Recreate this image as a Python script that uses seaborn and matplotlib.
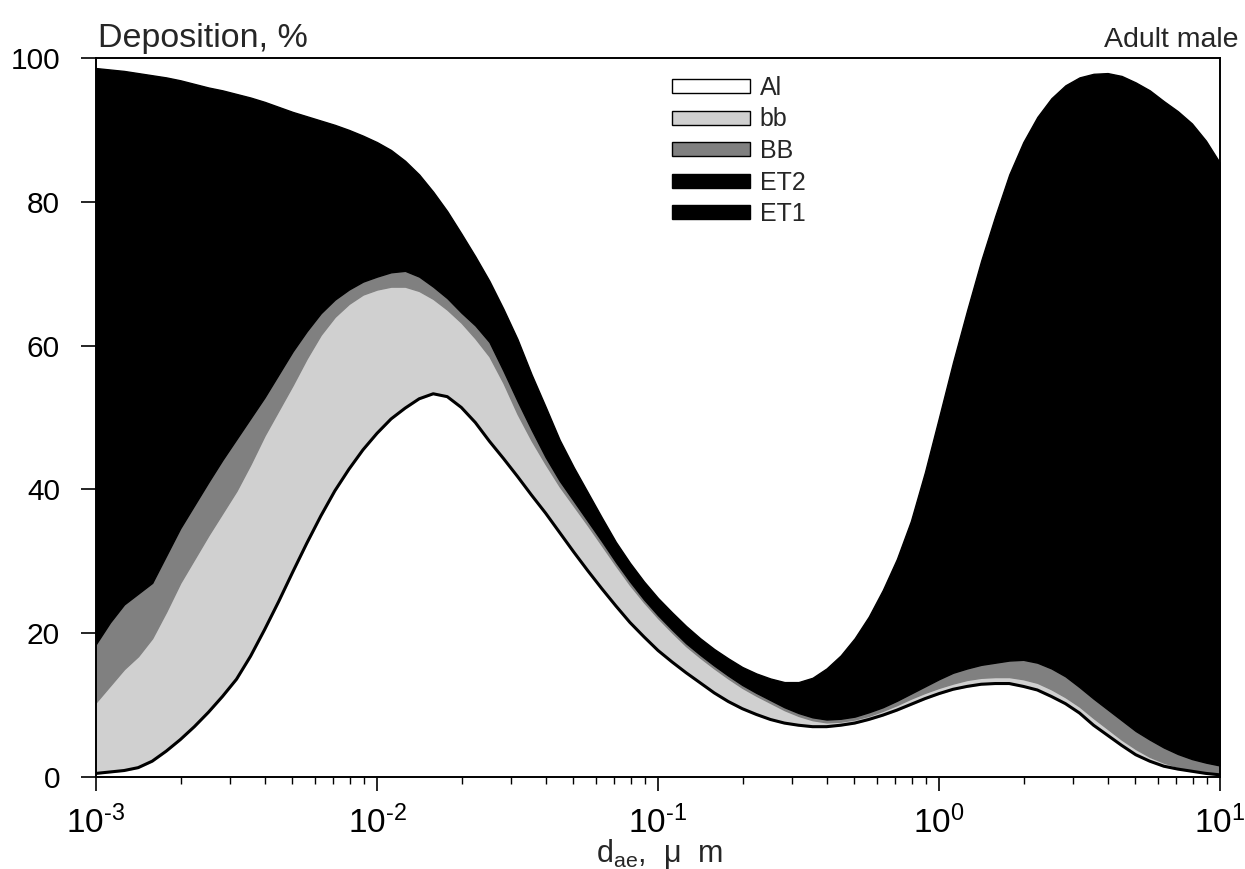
import numpy as np
import pandas as pd
import matplotlib
matplotlib.use("Agg")
import matplotlib.pyplot as plt
from matplotlib.patches import Patch
from matplotlib.ticker import FixedLocator, FixedFormatter
import seaborn as sns

# particle aerodynamic diameter, exponent of 10 (um)
log_d = [-3.00, -2.95, -2.90, -2.85, -2.80, -2.75, -2.70, -2.65, -2.60, -2.55,
         -2.50, -2.45, -2.40, -2.35, -2.30, -2.25, -2.20, -2.15, -2.10, -2.05,
         -2.00, -1.95, -1.90, -1.85, -1.80, -1.75, -1.70, -1.65, -1.60, -1.55,
         -1.50, -1.45, -1.40, -1.35, -1.30, -1.25, -1.20, -1.15, -1.10, -1.05,
         -1.00, -0.95, -0.90, -0.85, -0.80, -0.75, -0.70, -0.65, -0.60, -0.55,
         -0.50, -0.45, -0.40, -0.35, -0.30, -0.25, -0.20, -0.15, -0.10, -0.05,
         0.00, 0.05, 0.10, 0.15, 0.20, 0.25, 0.30, 0.35, 0.40, 0.45,
         0.50, 0.55, 0.60, 0.65, 0.70, 0.75, 0.80, 0.85, 0.90, 0.95, 1.00]

# cumulative deposition (%) - upper boundary of each region
al_top = [0.5, 0.7, 0.9, 1.3, 2.2, 3.6, 5.2, 7.0, 9.0, 11.2,
          13.6, 16.8, 20.5, 24.4, 28.5, 32.5, 36.3, 39.8, 42.8, 45.5,
          47.8, 49.8, 51.3, 52.6, 53.3, 52.9, 51.4, 49.3, 46.7, 44.3,
          41.8, 39.2, 36.7, 34.0, 31.3, 28.7, 26.2, 23.8, 21.5, 19.5,
          17.6, 16.0, 14.5, 13.1, 11.7, 10.5, 9.5, 8.7, 8.0, 7.5,
          7.2, 7.0, 7.0, 7.2, 7.5, 8.0, 8.6, 9.3, 10.1, 10.9,
          11.6, 12.2, 12.6, 12.9, 13.0, 13.0, 12.6, 12.1, 11.2, 10.2,
          8.9, 7.2, 5.8, 4.4, 3.1, 2.2, 1.5, 1.1, 0.8, 0.5, 0.3]
bb_top = [10.4, 12.7, 15.0, 16.8, 19.3, 23.0, 27.0, 30.3, 33.6, 36.7,
          39.8, 43.5, 47.5, 51.0, 54.5, 58.2, 61.5, 64.0, 65.8, 67.1,
          67.8, 68.2, 68.2, 67.6, 66.5, 65.0, 63.2, 61.0, 58.5, 54.8,
          50.5, 46.8, 43.5, 40.4, 37.7, 35.0, 32.2, 29.4, 26.7, 24.3,
          22.1, 20.1, 18.2, 16.6, 15.1, 13.7, 12.4, 11.3, 10.3, 9.3,
          8.5, 7.9, 7.6, 7.7, 8.0, 8.5, 9.2, 10.0, 10.9, 11.7,
          12.4, 13.0, 13.5, 13.8, 13.9, 13.9, 13.6, 13.1, 12.2, 11.1,
          9.8, 8.2, 6.7, 5.2, 3.9, 2.8, 2.0, 1.4, 1.0, 0.7, 0.4]
BB_top = [18.5, 21.5, 24.0, 25.5, 27.0, 30.8, 34.6, 37.8, 41.0, 44.1,
          47.0, 49.9, 52.8, 56.0, 59.2, 62.0, 64.5, 66.4, 67.8, 68.9,
          69.6, 70.2, 70.4, 69.6, 68.2, 66.6, 64.6, 62.8, 60.5, 56.5,
          52.3, 48.3, 44.5, 41.2, 38.4, 35.6, 32.8, 29.9, 27.2, 24.7,
          22.5, 20.5, 18.6, 17.0, 15.5, 14.1, 12.8, 11.7, 10.7, 9.7,
          8.9, 8.3, 8.0, 8.1, 8.4, 9.0, 9.7, 10.6, 11.6, 12.6,
          13.6, 14.5, 15.1, 15.6, 15.9, 16.2, 16.3, 15.9, 15.1, 14.0,
          12.5, 10.9, 9.4, 7.9, 6.4, 5.2, 4.1, 3.2, 2.5, 2.0, 1.6]
et2_top = [58.0, 60.0, 62.0, 63.0, 64.0, 65.5, 67.0, 68.5, 70.0, 71.0,
           72.0, 73.0, 74.0, 75.0, 76.0, 76.8, 77.5, 78.2, 78.8, 79.1,
           79.3, 79.0, 78.5, 77.2, 75.5, 73.2, 70.5, 68.0, 65.5, 61.6,
           57.5, 53.2, 49.0, 45.0, 41.5, 38.2, 35.0, 31.8, 28.8, 26.2,
           23.9, 21.9, 20.0, 18.3, 16.8, 15.5, 14.3, 13.4, 12.6, 12.1,
           11.8, 11.9, 12.5, 13.5, 15.0, 16.8, 19.0, 21.8, 25.0, 29.0,
           33.0, 37.0, 41.0, 45.0, 49.0, 52.2, 55.0, 56.8, 58.0, 58.4,
           58.5, 58.0, 57.0, 55.6, 54.0, 52.3, 50.5, 48.8, 47.0, 45.0, 43.0]
et1_top = [98.6, 98.4, 98.2, 97.9, 97.6, 97.3, 96.9, 96.4, 95.9, 95.5,
           95.0, 94.5, 93.9, 93.2, 92.5, 91.9, 91.3, 90.7, 90.0, 89.2,
           88.3, 87.2, 85.7, 83.8, 81.4, 78.7, 75.6, 72.4, 69.0, 65.1,
           60.9, 56.0, 51.5, 46.9, 43.1, 39.6, 36.1, 32.7, 29.8, 27.2,
           24.9, 22.9, 21.0, 19.3, 17.8, 16.5, 15.3, 14.4, 13.7, 13.2,
           13.2, 13.8, 15.1, 16.9, 19.3, 22.3, 26.0, 30.3, 35.6, 42.4,
           50.0, 57.7, 64.9, 71.8, 78.0, 83.8, 88.3, 91.8, 94.4, 96.2,
           97.3, 97.8, 97.9, 97.5, 96.6, 95.5, 94.0, 92.6, 90.9, 88.5, 85.4]

labels = ["Al", "bb", "BB", "ET2", "ET1"]
colors = ["white", "#d0d0d0", "#808080", "black", "black"]
xtick_vals = [1e-3, 1e-2, 1e-1, 1e0, 1e1]
xtick_labels = [r"$10^{\text{-}3}$", r"$10^{\text{-}2}$", r"$10^{\text{-}1}$",
                r"$10^{0}$", r"$10^{1}$"]
ytick_vals = [0, 20, 40, 60, 80, 100]

sns.set_theme(style="ticks")
plt.rcParams["font.family"] = ["Liberation Sans", "DejaVu Sans"]
plt.rcParams["mathtext.fontset"] = "custom"
plt.rcParams["mathtext.rm"] = "Liberation Sans"
plt.rcParams["mathtext.it"] = "Liberation Sans"
plt.rcParams["mathtext.default"] = "regular"

df = pd.DataFrame({"d": np.power(10.0, log_d), "Al": al_top, "bb": bb_top,
                   "BB": BB_top, "ET2": et2_top, "ET1": et1_top})

fig = plt.figure(figsize=(12.45, 8.69), dpi=100)
ax = fig.add_axes([96 / 1245, 1 - 777 / 869, (1220 - 96) / 1245, (777 - 58) / 869])

bounds = [np.zeros(len(df))] + [df[k].values for k in labels]
for i, lab in enumerate(labels):
    ax.fill_between(df["d"], bounds[i], bounds[i + 1], facecolor=colors[i],
                    edgecolor=colors[i], linewidth=1.0)

sns.lineplot(data=df, x="d", y="Al", color="black", linewidth=2.2, ax=ax)

ax.set_xscale("log")
ax.set_xlim(1e-3, 10)
ax.set_ylim(0, 100)
ax.xaxis.set_major_locator(FixedLocator(xtick_vals))
ax.xaxis.set_major_formatter(FixedFormatter(xtick_labels))
ax.set_yticks(ytick_vals)
ax.set_ylabel("")
ax.set_xlabel("")

for s in ax.spines.values():
    s.set_linewidth(1.4)
    s.set_color("black")
ax.tick_params(axis="both", which="major", direction="out", width=1.2, colors="black")
ax.tick_params(axis="x", which="major", length=10, pad=10.5, labelsize=24)
ax.tick_params(axis="x", which="minor", direction="out", length=5, width=1.0, colors="black")
ax.tick_params(axis="y", which="major", length=11, pad=15, labelsize=21.5)

handles = [Patch(facecolor=c, edgecolor="black", linewidth=1.0) for c in colors]
fig.legend(handles, labels, loc="upper left", bbox_to_anchor=(672 / 1245, 1 - 76 / 869),
           frameon=False, fontsize=18, handlelength=3.1, handleheight=0.48,
           handletextpad=0.4, labelspacing=0.3, borderpad=0, borderaxespad=0)

fig.text(98 / 1245, 1 - 47 / 869, "Deposition, %", fontsize=24.5, ha="left", va="baseline")
fig.text(1239 / 1245, 1 - 47 / 869, "Adult male", fontsize=20.5, ha="right", va="baseline")
fig.text(660 / 1245, 1 - 862 / 869, r"d$_{\mathrm{ae}}$,  $\mathrm{\mu}$  m", fontsize=22,
         ha="center", va="baseline")

fig.savefig("out.png", dpi=100)
